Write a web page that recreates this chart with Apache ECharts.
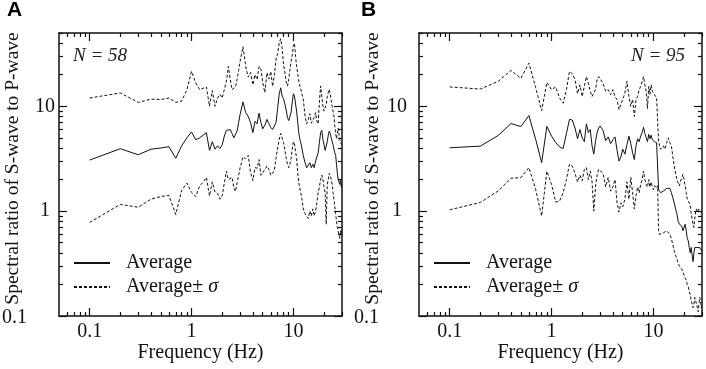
<!DOCTYPE html>
<html><head><meta charset="utf-8">
<script src="https://cdn.jsdelivr.net/npm/echarts@6/dist/echarts.min.js"></script>
<style>html,body{margin:0;padding:0;background:#fff}#c{width:706px;height:369px}</style>
</head><body><div id="c"></div>
<script>
// Frequency grid (Hz)
const freq = [
  0.1,0.2,0.3,0.4,0.5,0.6,0.7,0.8,0.9,1.0,
  1.1,1.2,1.3,1.4,1.5,1.6,1.7,1.8,1.9,2.0,2.1,2.2,2.3,2.4,2.5,2.6,2.7,2.8,2.9,3.0,
  3.2,3.4,3.6,3.8,4.0,4.2,4.4,4.6,4.8,5.0,
  5.25,5.5,5.75,6.0,6.25,6.5,6.75,7.0,7.25,7.5,7.75,8.0,8.25,8.5,8.75,9.0,9.25,9.5,9.75,10,10.25,10.5,10.75,11,11.25,11.5,11.75,12,
  12.5,13,13.5,14,14.5,15,15.5,16,16.5,17,17.5,18,18.5,19,19.5,20,20.5,21,21.5,22,22.5,23,23.5,24,24.5,25,25.5,26,26.5,27,27.5,28,28.5,29,29.5,30
];
// Panel A (N = 58)
const avgA = [
  3.07,3.94,3.45,3.90,4.0,4.12,3.19,4.2,5.0,5.7,
  4.8,5.0,5.3,5.6,3.8,4.6,3.9,4.2,3.95,4.3,5.2,5.9,6.1,6.0,5.5,5.0,4.85,5.8,7.0,8.4,
  11.0,8.7,8.0,7.0,5.6,7.2,6.8,8.6,7.0,6.1,
  6.6,7.5,6.8,6.3,6.0,6.2,7.0,9.5,13.0,15.0,12.5,11.8,10.5,9.2,7.8,7.3,8.0,8.8,11.0,13.2,12.5,10.5,9.0,7.2,5.8,5.0,4.6,4.2,
  3.4,2.9,2.6,2.5,2.9,2.6,2.8,2.6,3.0,3.1,3.6,4.5,5.6,5.9,4.8,4.3,3.8,3.9,4.6,5.3,5.8,5.5,5.0,4.9,4.3,3.9,3.6,3.4,2.8,2.3,2.0,1.9,1.8,2.0,1.7,1.8
];
const upperA = [
  12.0,13.4,10.9,11.7,11.6,12.0,10.9,11.2,14.4,21.5,
  16.7,14.4,14.9,15.3,10.0,14.1,10.0,12.0,13.0,12.0,14.5,17.3,24,18,14.4,15.0,15.3,18,22,27,
  37,24,19,21,16,20,18,24,22.5,16.8,
  13.5,20.9,18.2,21.5,15.5,20,28,32,40,44,36,25,21,17,15.6,18,22.5,27,31,38,40,30,24,20.9,18,16,15,13.5,
  11.7,8.1,6.8,7.5,8.5,6.9,7.1,7.8,8.7,7.2,6.8,11,15.6,12.5,10,9.0,8.9,10.5,12.3,13.5,14.5,13,11.4,10,9,8.1,6.5,5.5,4.9,5.5,6.2,5.5,4.8,4.5,4.6,4.3
];
const lowerA = [
  0.78,1.16,1.09,1.30,1.38,1.41,0.93,1.58,1.85,1.51,
  1.38,1.74,1.89,2.1,1.4,1.9,1.52,1.47,1.3,1.4,1.86,2.4,2.0,2.0,2.1,1.67,1.54,1.87,2.2,2.6,
  3.3,3.15,3.4,2.33,1.96,2.6,2.57,3.1,2.2,2.2,
  2.5,2.7,2.5,2.2,2.3,2.45,3.2,4.0,4.8,5.5,5.0,4.5,3.8,3.2,2.8,2.6,2.8,3.2,3.9,4.6,4.4,3.7,3.2,2.4,1.9,1.7,1.5,1.4,
  1.05,0.95,0.9,0.85,1.0,0.9,1.05,0.9,1.0,1.2,1.5,1.7,2.0,2.2,2.0,1.7,1.5,0.75,1.8,2.0,2.3,2.2,2.0,1.8,1.5,1.3,1.1,0.95,0.8,0.7,0.65,0.6,0.55,0.65,0.6,0.7
];
// Panel B (N = 95)
const avgB = [
  4.02,4.17,5.27,6.85,6.4,8.15,4.8,2.9,6.45,5.2,
  4.5,4.1,3.95,5.5,7.5,7.4,6.2,4.9,6.0,5.0,4.6,6.8,5.6,6.0,4.2,3.5,4.6,5.6,6.2,6.5,
  5.9,4.7,5.1,4.4,4.8,5.1,3.8,3.0,3.3,3.9,
  3.5,4.3,5.2,4.4,3.6,3.1,4.2,4.9,4.6,5.2,5.6,6.3,5.5,5.0,4.6,5.4,4.9,5.3,4.8,5.0,4.6,4.8,4.5,4.6,1.6,1.55,1.5,1.5,
  1.55,1.6,1.65,1.7,1.65,1.5,1.35,1.2,1.05,0.95,0.8,0.75,0.78,0.72,0.65,0.7,0.75,0.65,0.55,0.52,0.45,0.4,0.45,0.38,0.33,0.4,0.45,0.47,0.46,0.45,0.45,0.44,0.45,0.43,0.44,0.42
];
const upperB = [
  15.3,14.6,17.3,22,18.5,25.8,15,9.1,16.9,14.4,
  15.3,12,10.7,14.4,21.5,20.4,17.9,13.2,16,12.4,15.5,19.2,16.6,13.9,12.4,12,14.4,17.9,19.2,20,
  16.6,13.9,14.4,12.9,14.4,12.4,11.6,9.3,10.4,11.6,
  13.4,17.3,12.4,10,11.6,8.0,11.6,12.4,14.4,15.5,17.3,19.2,16,13.9,9.5,15.5,13,16,14,13.4,12.9,12.9,12,12.4,4.6,4.2,3.9,3.9,
  4.2,3.9,4.5,5.0,4.5,4.2,3.35,2.7,2.3,2.0,1.85,1.74,1.94,2.08,2.24,2.0,1.74,1.5,1.3,1.28,1.2,1.12,0.95,0.84,0.75,0.7,0.85,1.0,1.05,0.98,1.0,1.05,1.0,0.98,1.02,0.97
];
const lowerB = [
  1.03,1.21,1.56,2.06,2.09,2.6,1.6,0.9,2.4,1.8,
  1.22,1.25,1.5,2.0,2.8,2.7,2.3,1.9,2.2,1.95,2.5,2.6,2.0,2.4,1.9,1.0,1.7,2.2,2.5,2.6,
  2.3,1.7,2.1,1.55,1.7,2.0,1.2,0.98,1.2,1.1,
  1.3,1.9,1.3,2.1,1.5,1.05,1.4,1.7,1.5,1.8,2.0,2.4,2.0,1.8,1.7,2.0,1.7,1.9,1.7,1.6,1.75,1.8,1.65,1.75,0.65,0.6,0.58,0.58,
  0.62,0.6,0.65,0.65,0.6,0.55,0.48,0.42,0.38,0.35,0.32,0.3,0.29,0.28,0.26,0.25,0.23,0.22,0.2,0.19,0.17,0.16,0.14,0.13,0.12,0.13,0.15,0.14,0.13,0.12,0.11,0.13,0.15,0.14,0.12,0.13
];
// Tick values
const xMajor = [0.1, 1, 10];
const xMinor = [0.06,0.07,0.08,0.09,0.2,0.3,0.4,0.5,0.6,0.7,0.8,0.9,2,3,4,5,6,7,8,9,20,30];
const yMajor = [0.1, 1, 10];
const yMinor = [0.2,0.3,0.4,0.5,0.6,0.7,0.8,0.9,2,3,4,5,6,7,8,9,20,30,40,50];
const xLabel = 'Frequency (Hz)';
const yLabel = 'Spectral ratio of S-wave to P-wave';
const nText = ['N = 58', 'N = 95'];

const SERIF = '"Liberation Serif","Times New Roman",serif';
const SANS = '"Liberation Sans",Arial,sans-serif';
const INK = '#111';

function pairs(v) { return freq.map((f, i) => [f, v[i]]); }

const grids = [
  {left: 59, top: 33, width: 283, height: 283, containLabel: false, outerBoundsMode: 'none'},
  {left: 419, top: 33, width: 283, height: 283, containLabel: false, outerBoundsMode: 'none'}
];
// y tick label placement differs per panel in the original figure
const yLabMargin = [4, 12];

const xAxes = [], yAxes = [];
grids.forEach((g, gi) => {
  const baseX = {type: 'log', logBase: 10, gridIndex: gi, min: 0.05, max: 30, splitLine: {show: false}};
  const baseY = {type: 'log', logBase: 10, gridIndex: gi, min: 0.1, max: 50, splitLine: {show: false}};
  const line = {show: true, lineStyle: {color: INK, width: 1.5}};
  const tick = (vals, len) => ({show: true, inside: true, length: len, customValues: vals, lineStyle: {color: INK, width: 1.2}});
  xAxes.push(Object.assign({}, baseX, {
    position: 'bottom', axisLine: line, axisTick: tick(xMajor, 8),
    axisLabel: {customValues: xMajor, margin: 6, color: INK, fontFamily: SERIF, fontSize: 20, formatter: v => String(v)},
    name: xLabel, nameLocation: 'middle', nameGap: 27, nameMoveOverlap: false,
    nameTextStyle: {fontFamily: SERIF, fontSize: 20, color: INK}
  }));
  xAxes.push(Object.assign({}, baseX, {position: 'bottom', axisLine: {show: false}, axisTick: tick(xMinor, 4), axisLabel: {show: false}}));
  xAxes.push(Object.assign({}, baseX, {position: 'top', axisLine: line, axisTick: tick(xMajor, 8), axisLabel: {show: false}}));
  xAxes.push(Object.assign({}, baseX, {position: 'top', axisLine: {show: false}, axisTick: tick(xMinor, 4), axisLabel: {show: false}}));
  yAxes.push(Object.assign({}, baseY, {
    position: 'left', axisLine: line, axisTick: tick(yMajor, 8),
    axisLabel: {customValues: yMajor, margin: yLabMargin[gi], color: INK, fontFamily: SERIF, fontSize: 20,
      formatter: v => v >= 10 ? '{a|10}' : (v >= 1 ? '{b|1}' : '{c|0.1}'),
      rich: {
        a: {fontFamily: SERIF, fontSize: 20, color: INK},
        b: {fontFamily: SERIF, fontSize: 20, color: INK, padding: [0, 5, 0, 0]},
        c: {fontFamily: SERIF, fontSize: 20, color: INK, padding: [4, 28, 0, 0]}
      }},
    name: yLabel, nameLocation: 'middle', nameGap: 36, nameMoveOverlap: false,
    nameTextStyle: {fontFamily: SERIF, fontSize: 19.5, color: INK, padding: [0, 0, 0, 12]}
  }));
  yAxes.push(Object.assign({}, baseY, {position: 'left', axisLine: {show: false}, axisTick: tick(yMinor, 4), axisLabel: {show: false}}));
  yAxes.push(Object.assign({}, baseY, {position: 'right', axisLine: line, axisTick: tick(yMajor, 8), axisLabel: {show: false}}));
  yAxes.push(Object.assign({}, baseY, {position: 'right', axisLine: {show: false}, axisTick: tick(yMinor, 4), axisLabel: {show: false}}));
});

const panels = [[avgA, upperA, lowerA], [avgB, upperB, lowerB]];
const series = [];
panels.forEach((p, gi) => {
  const common = {type: 'line', xAxisIndex: gi * 4, yAxisIndex: gi * 4, showSymbol: false, symbol: 'none', silent: true, animation: false, z: 3};
  series.push(Object.assign({}, common, {name: 'Average', data: pairs(p[0]), lineStyle: {color: INK, width: 1, type: 'solid'}, itemStyle: {color: INK}}));
  series.push(Object.assign({}, common, {name: 'Average ± σ', data: pairs(p[1]), lineStyle: {color: INK, width: 1, type: [3, 2]}, itemStyle: {color: INK}}));
  series.push(Object.assign({}, common, {name: 'Average ± σ', data: pairs(p[2]), lineStyle: {color: INK, width: 1, type: [3, 2]}, itemStyle: {color: INK}}));
});

const legendBase = {
  orient: 'vertical', itemWidth: 36, itemHeight: 14, itemGap: 4, top: 248,
  data: ['Average', 'Average ± σ'], selectedMode: false,
  itemStyle: {opacity: 0},
  textStyle: {fontFamily: SERIF, fontSize: 20, color: INK, lineHeight: 20, padding: [0, 0, 0, 11],
    rich: {s: {fontFamily: SERIF, fontSize: 20, color: INK, fontStyle: 'italic', lineHeight: 20}, n: {fontFamily: SERIF, fontSize: 20, color: INK, lineHeight: 20}}},
  formatter: name => name === 'Average' ? 'Average' : '{n|Average±} {s|σ}'
};

const option = {
  backgroundColor: '#fff',
  animation: false,
  grid: grids,
  xAxis: xAxes,
  yAxis: yAxes,
  series: series,
  legend: [
    Object.assign({}, legendBase, {left: 68}),
    Object.assign({}, legendBase, {left: 428})
  ],
  title: [
    {text: 'A', left: 7, top: 0, padding: 0, textStyle: {fontFamily: SANS, fontWeight: 'bold', fontSize: 21, color: '#000'}},
    {text: 'B', left: 361, top: 0, padding: 0, textStyle: {fontFamily: SANS, fontWeight: 'bold', fontSize: 21, color: '#000'}},
    {text: nText[0], left: 73, top: 46, padding: 0, textStyle: {fontFamily: SERIF, fontStyle: 'italic', fontWeight: 'normal', fontSize: 19, color: '#222'}},
    {text: nText[1], right: 21, top: 46, padding: 0, textStyle: {fontFamily: SERIF, fontStyle: 'italic', fontWeight: 'normal', fontSize: 19, color: '#222'}}
  ]
};
const chart = echarts.init(document.getElementById('c'), null, {renderer: 'canvas'});
chart.setOption(option);
</script>
</body></html>
